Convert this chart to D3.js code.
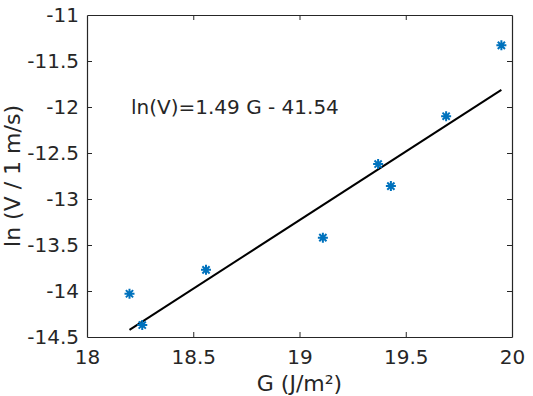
<!DOCTYPE html>
<html><head><meta charset="utf-8">
<script src="https://cdn.jsdelivr.net/npm/d3@7"></script>
<style>body{margin:0;background:#fff}svg{display:block}text{font-family:"DejaVu Sans",sans-serif;fill:#262626}</style>
</head><body><svg id="c" width="533" height="396"></svg>
<script>
const G = [18.20, 18.26, 18.56, 19.11, 19.37, 19.43, 19.69, 19.95];
const lnV = [-14.03, -14.37, -13.77, -13.42, -12.62, -12.86, -12.10, -11.33];
const slope = 1.49, intercept = -41.54;
const xTicks = [18, 18.5, 19, 19.5, 20];
const yTicks = [-11, -11.5, -12, -12.5, -13, -13.5, -14, -14.5];
const eqLabel = "ln(V)=1.49 G - 41.54";

const svg = d3.select("#c");
const L = 87, R = 512, T = 15, B = 337;
const x = d3.scaleLinear().domain([18, 20]).range([L, R]);
const y = d3.scaleLinear().domain([-14.5, -11]).range([B, T]);
const fmt = d => String(d);
const axc = "#262626";

const gx = svg.append("g").attr("transform", `translate(0,${B})`)
  .call(d3.axisBottom(x).tickValues(xTicks).tickFormat(fmt).tickSizeInner(-5).tickSizeOuter(0).tickPadding(13));
const gxt = svg.append("g").attr("transform", `translate(0,${T})`)
  .call(d3.axisTop(x).tickValues(xTicks).tickFormat("").tickSizeInner(-5).tickSizeOuter(0));
const gy = svg.append("g").attr("transform", `translate(${L},0)`)
  .call(d3.axisLeft(y).tickValues(yTicks).tickFormat(fmt).tickSizeInner(-5).tickSizeOuter(0).tickPadding(8));
const gyr = svg.append("g").attr("transform", `translate(${R},0)`)
  .call(d3.axisRight(y).tickValues(yTicks).tickFormat("").tickSizeInner(-5).tickSizeOuter(0));
[gx, gxt, gy, gyr].forEach(g => {
  g.selectAll(".domain").attr("stroke", axc).attr("stroke-width", 1.2);
  g.selectAll(".tick line").attr("stroke", axc).attr("stroke-width", 1);
  g.selectAll("text").attr("font-size", 20).attr("fill", axc).attr("font-family", "DejaVu Sans");
});
gxt.selectAll(".tick").filter(d => d === 18 || d === 20).select("line").remove();
gx.selectAll(".tick").filter(d => d === 18 || d === 20).select("line").remove();
gy.selectAll(".tick").filter(d => d === -11 || d === -14.5).select("line").remove();
gyr.selectAll(".tick").filter(d => d === -11 || d === -14.5).select("line").remove();

// fit line
const gx0 = d3.min(G), gx1 = d3.max(G);
svg.append("line")
  .attr("x1", x(gx0)).attr("y1", y(slope * gx0 + intercept))
  .attr("x2", x(gx1)).attr("y2", y(slope * gx1 + intercept))
  .attr("stroke", "#000").attr("stroke-width", 2);

// asterisk markers
const s = 5, d45 = s * 0.72;
const star = `M${-s},0L${s},0M0,${-s}L0,${s}M${-d45},${-d45}L${d45},${d45}M${-d45},${d45}L${d45},${-d45}`;
svg.append("g").selectAll("path").data(G.map((g, i) => [g, lnV[i]])).join("path")
  .attr("transform", d => `translate(${x(d[0])},${y(d[1])})`)
  .attr("d", star).attr("stroke", "#0072BD").attr("stroke-width", 2).attr("fill", "none");

svg.append("text").attr("x", x(18.207)).attr("y", y(-12.075)).attr("font-size", 20).text(eqLabel);

svg.append("text").attr("x", (L + R) / 2).attr("y", 391).attr("text-anchor", "middle").attr("font-size", 22).text("G (J/m²)");
svg.append("text").attr("transform", `translate(20,${(T + B) / 2}) rotate(-90)`).attr("text-anchor", "middle").attr("font-size", 22).text("ln (V / 1 m/s)");
</script></body></html>
